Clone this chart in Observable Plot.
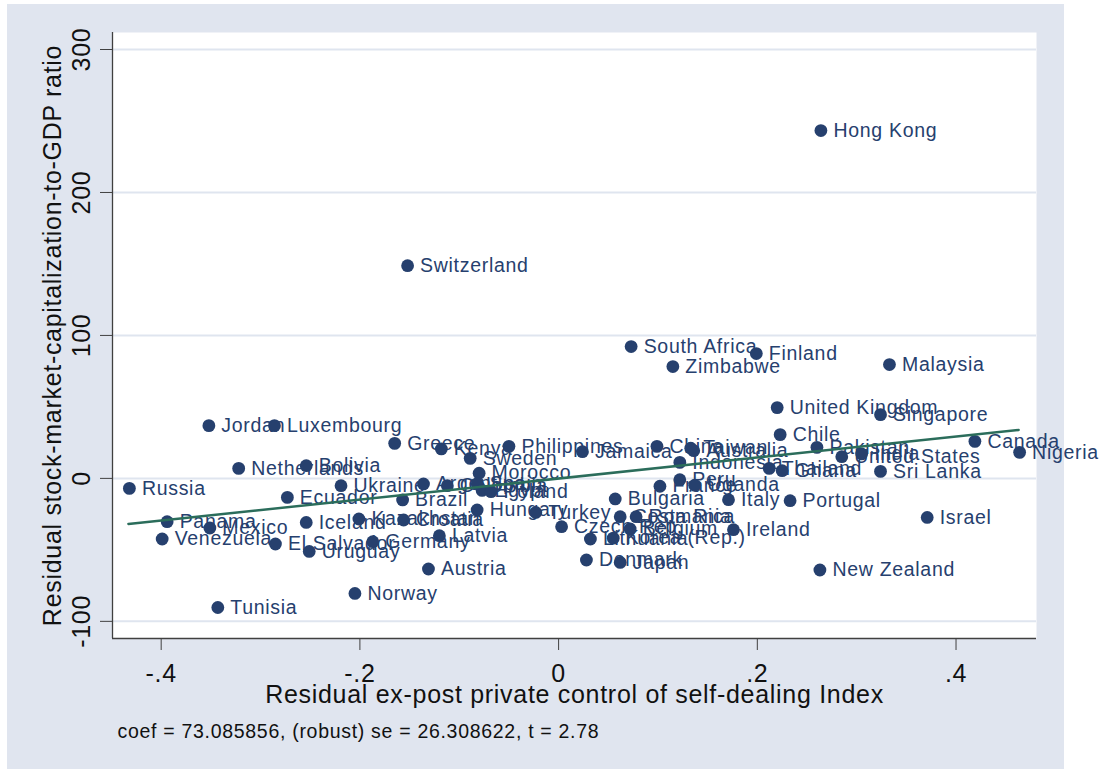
<!DOCTYPE html>
<html>
<head>
<meta charset="utf-8">
<script src="https://cdn.jsdelivr.net/npm/d3@7"></script>
<script src="https://cdn.jsdelivr.net/npm/@observablehq/plot@0.6"></script>
<style>
  html, body { margin: 0; padding: 0; background: white; }
  #bg { position: absolute; left: 7px; top: 4px; width: 1057px; height: 765px; background: #e0e5ef; }
  #chart { position: absolute; left: 0; top: 0; }
  #chart svg text { letter-spacing: 0.7px; }
</style>
</head>
<body>
<div id="bg"></div>
<div id="chart"></div>
<script>
const countries = ["Russia","Panama","Mexico","Venezuela","Jordan","Luxembourg","Netherlands","Bolivia","Ukraine","Ecuador",
  "Iceland","El Salvador","Uruguay","Kazakhstan","Croatia","Germany","Norway","Tunisia","Greece","Kenya",
  "Sweden","Philippines","Jamaica","Morocco","Argentina","Colombia","Spain","Egypt","Poland","Brazil",
  "Hungary","Turkey","Latvia","Austria","Czech Rep.","Lithuania","Denmark","Japan","Bulgaria","Costa Rica",
  "Romania","Belgium","Korea (Rep.)","Ireland","Italy","Portugal","New Zealand","Israel","Peru","France",
  "Uganda","Indonesia","Chile","Pakistan","Thailand","Ghana","United States","India","Sri Lanka","Canada",
  "Nigeria","Singapore","United Kingdom","Hong Kong","Switzerland","South Africa","Zimbabwe","Finland","Malaysia","China",
  "Taiwan","Australia"];
const selfDealingResid = [-0.432,-0.394,-0.351,-0.399,-0.352,-0.286,-0.322,-0.254,-0.219,-0.273,
  -0.254,-0.285,-0.251,-0.201,-0.156,-0.187,-0.205,-0.343,-0.165,-0.118,
  -0.089,-0.050,0.024,-0.080,-0.136,-0.112,-0.082,-0.077,-0.068,-0.157,
  -0.082,-0.023,-0.120,-0.131,0.003,0.032,0.028,0.062,0.057,0.062,
  0.078,0.072,0.055,0.176,0.171,0.233,0.263,0.371,0.122,0.102,
  0.137,0.122,0.223,0.260,0.212,0.225,0.285,0.305,0.324,0.419,
  0.464,0.324,0.220,0.264,-0.152,0.073,0.115,0.199,0.333,0.099,
  0.133,0.136];
const marketCapResid = [-7.0,-30.3,-34.7,-42.4,36.9,36.9,7.0,8.9,-5.1,-13.3,
  -30.8,-45.9,-51.1,-28.4,-29.1,-44.3,-80.5,-90.3,24.5,20.6,
  14.0,22.4,18.7,3.6,-3.9,-5.1,-3.7,-8.4,-9.3,-15.1,
  -22.1,-23.8,-40.1,-63.4,-33.8,-42.4,-57.1,-58.8,-14.4,-26.8,
  -26.8,-35.4,-41.8,-35.9,-14.9,-15.6,-64.1,-27.3,-0.9,-5.5,
  -4.8,11.2,30.6,21.7,7.0,5.4,15.2,17.1,4.9,25.9,
  18.2,44.6,49.5,243.3,148.8,92.2,78.2,87.3,79.6,22.4,
  21.1,19.4];
const fitX = [-0.433, 0.463];
const fitY = [-31.9, 33.9];
const xTicks = [-0.4, -0.2, 0, 0.2, 0.4];
const xTickLabels = ["-.4", "-.2", "0", ".2", ".4"];
const yTicks = [-100, 0, 100, 200, 300];
const yTickLabels = ["-100", "0", "100", "200", "300"];
const xTitle = "Residual ex-post private control of self-dealing Index";
const yTitle = "Residual stock-market-capitalization-to-GDP ratio";
const caption = "coef = 73.085856, (robust) se = 26.308622, t = 2.78";

const xDomain = [-0.449, 0.481];
const yDomain = [-112, 311.9];

const pts = countries.map((c, i) => ({c, x: selfDealingResid[i], y: marketCapResid[i]}));
const fit = fitX.map((x, i) => ({x, y: fitY[i]}));
const xt = xTicks.map((v, i) => ({v, t: xTickLabels[i]}));
const yt = yTicks.map((v, i) => ({v, t: yTickLabels[i]}));

const navy = "#26406e";
const font = "Liberation Sans, Arial, Helvetica, sans-serif";

const chart = Plot.plot({
  width: 1099,
  height: 769,
  marginLeft: 112,
  marginTop: 32,
  marginRight: 63,
  marginBottom: 131,
  style: {background: "transparent", fontFamily: font, overflow: "visible"},
  x: {domain: xDomain},
  y: {domain: yDomain},
  marks: [
    Plot.frame({fill: "white", stroke: null}),
    Plot.ruleY(yTicks, {stroke: "#dfe5ef", strokeWidth: 2}),
    Plot.ruleX([xDomain[0]], {stroke: "#404040", strokeWidth: 1.3}),
    Plot.ruleY([yDomain[0]], {stroke: "#404040", strokeWidth: 1.3}),
    Plot.axisX(xTicks, {tickSize: 12, tickFormat: () => "", label: null, stroke: "#404040"}),
    Plot.axisY(yTicks, {tickSize: 12, tickFormat: () => "", label: null, stroke: "#404040"}),
    Plot.text(xt, {x: "v", y: yDomain[0], text: "t", dy: 35, fontSize: 25, fill: "#111", lineAnchor: "middle"}),
    Plot.text(yt, {x: xDomain[0], y: "v", text: "t", dx: -31, rotate: -90, fontSize: 25, fill: "#111", lineAnchor: "middle"}),
    Plot.text([xTitle], {frameAnchor: "bottom", text: d => d, dy: 56, fontSize: 25, fill: "#111", textAnchor: "middle", lineAnchor: "middle"}),
    Plot.text([yTitle], {frameAnchor: "left", text: d => d, dx: -60, rotate: -90, fontSize: 25, fill: "#111", textAnchor: "middle", lineAnchor: "middle"}),
    Plot.text([caption], {frameAnchor: "bottom-left", text: d => d, dx: 5, dy: 93, fontSize: 19.5, fill: "#111", textAnchor: "start", lineAnchor: "middle"}),
    Plot.dot(pts, {x: "x", y: "y", r: 6.4, fill: navy, stroke: null}),
    Plot.text(pts, {x: "x", y: "y", text: "c", dx: 12.5, textAnchor: "start", lineAnchor: "middle", fontSize: 19.5, fill: navy}),
    Plot.line(fit, {x: "x", y: "y", stroke: "#2b6d5b", strokeWidth: 2.5})
  ]
});
document.getElementById("chart").appendChild(chart);
</script>
</body>
</html>
